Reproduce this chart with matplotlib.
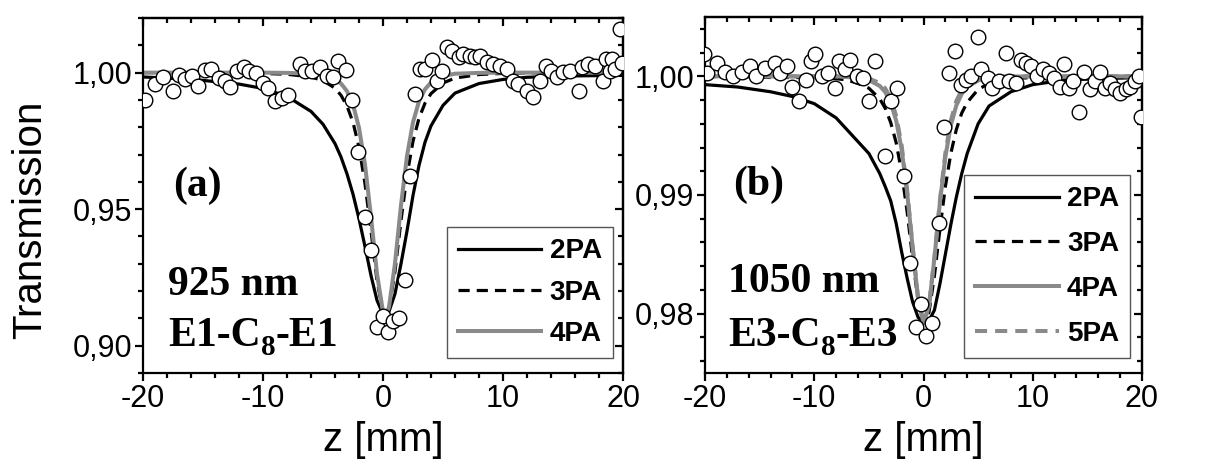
import matplotlib.pyplot as plt
from matplotlib.ticker import MultipleLocator, FuncFormatter

plt.rcParams['font.family'] = ['Liberation Sans', 'DejaVu Sans']
plt.rcParams['axes.unicode_minus'] = False

GRAY = '#8a8a8a'

# ---- panel (a): 925 nm, E1-C8-E1 ----
za_pts = [-19.83, -19.0, -18.3, -17.5, -16.97, -16.5, -15.9, -15.4, -14.8, -14.3,
          -13.7, -13.2, -12.75, -12.2, -11.6, -11.2, -10.6, -9.97, -9.55, -9.0,
          -8.44, -7.9, -6.9, -6.5, -5.94, -5.25, -4.7, -4.14, -3.72, -3.08,
          -2.6, -2.05, -1.5, -1.03, -0.53, -0.03, 0.44, 0.86, 1.36, 1.83,
          2.25, 2.67, 3.08, 3.5, 4.08, 4.5, 4.9, 5.33, 5.75, 6.3,
          6.7, 7.25, 7.67, 8.1, 8.64, 9.2, 9.75, 10.3, 10.86, 11.28,
          11.97, 12.5, 13.08, 13.6, 14.0, 14.5, 15.0, 15.6, 16.3, 16.6,
          17.1, 17.7, 18.3, 18.6, 18.9, 19.1, 19.3, 19.75, 19.9]
ta_pts = [0.990, 0.9958, 0.9985, 0.9932, 0.9993, 0.9977, 0.9989, 0.9952, 1.0010, 1.0013,
          0.9980, 0.9971, 0.9949, 1.0005, 1.0020, 1.0005, 0.9998, 0.9961, 0.9944, 0.9897,
          0.9906, 0.9919, 1.0032, 1.0007, 1.0007, 1.0020, 0.9989, 0.9983, 1.0042, 1.0010,
          0.9900, 0.9708, 0.9470, 0.9350, 0.9070, 0.9110, 0.9050, 0.9090, 0.9100, 0.9240,
          0.9623, 0.9922, 1.0013, 1.0013, 1.0046, 0.9971, 1.0007, 1.0093, 1.0080, 1.0056,
          1.0068, 1.0062, 1.0056, 1.0062, 1.0038, 1.0032, 1.0026, 1.0013, 0.9971, 0.9958,
          0.9934, 0.9910, 0.9971, 1.0026, 1.0007, 0.9983, 1.0001, 1.0007, 0.9934, 1.0020,
          1.0032, 1.0026, 0.9971, 1.0050, 1.0007, 1.0050, 1.0015, 1.0160, 1.0037]

za_fit = [-20, -16, -12, -10, -8, -6, -5, -4, -3.5, -3, -2.5, -2, -1.5, -1, -0.5, 0, 0.2,
          0.5, 1, 1.5, 2, 2.5, 3, 3.5, 4, 5, 6, 8, 10, 12, 16, 20]
ta_2pa = [0.9984, 0.9976, 0.9958, 0.9942, 0.9913, 0.9858, 0.9811, 0.9740, 0.9691, 0.9629,
          0.9555, 0.9465, 0.9363, 0.9257, 0.9166, 0.9115, 0.9110,
          0.9125, 0.9190, 0.9300, 0.9420, 0.9550, 0.9660, 0.9745, 0.9805, 0.9880, 0.9925,
          0.9960, 0.9975, 0.9983, 0.9988, 0.9990]
ta_3pa = [1.0, 1.0, 0.9999, 0.9997, 0.9994, 0.9984, 0.9971, 0.9943, 0.9917, 0.9878,
          0.9818, 0.9727, 0.9593, 0.9421, 0.9239, 0.9122, 0.9110,
          0.9136, 0.9273, 0.9458, 0.9624, 0.9749, 0.9833, 0.9888, 0.9923, 0.9962, 0.9980,
          0.9993, 0.9997, 0.9999, 1.0, 1.0]
ta_4pa = [1.0, 1.0, 1.0, 1.0, 0.9999, 0.9996, 0.9991, 0.9976, 0.9960, 0.9932,
          0.9883, 0.9798, 0.9663, 0.9472, 0.9263, 0.9124, 0.9110,
          0.9141, 0.9302, 0.9514, 0.9695, 0.9818, 0.9895, 0.9939, 0.9964, 0.9987, 0.9996,
          0.9999, 1.0, 1.0, 1.0, 1.0]

# ---- panel (b): 1050 nm, E3-C8-E3 ----
zb_pts = [-20.1, -19.8, -18.9, -18.2, -17.4, -16.6, -15.9, -15.3, -14.5, -13.6,
          -13.1, -12.5, -12.0, -11.4, -10.8, -10.3, -9.9, -9.33, -8.7, -8.1,
          -7.75, -7.15, -6.7, -6.1, -5.56, -5.0, -4.4, -3.5, -2.95, -2.4,
          -1.8, -1.2, -0.7, -0.27, 0.26, 0.8, 1.45, 1.9, 2.35, 2.9,
          3.4, 3.87, 4.33, 4.95, 5.25, 5.86, 6.3, 6.93, 7.54, 7.85,
          8.45, 8.9, 9.35, 9.8, 10.4, 10.9, 11.5, 11.9, 12.45, 12.9,
          13.3, 13.7, 14.2, 14.7, 15.25, 15.7, 16.2, 16.6, 17.1, 17.5,
          18.0, 18.5, 18.9, 19.4, 19.7, 19.95]
tb_pts = [1.0019, 1.0003, 1.0011, 1.0004, 1.0000, 1.0004, 1.0009, 1.0000, 1.0007, 1.0011,
          1.0003, 1.0009, 0.9991, 0.9979, 0.9997, 1.0013, 1.0019, 1.0000, 1.0003, 0.9990,
          1.0013, 1.0006, 1.0014, 1.0000, 0.9999, 0.9979, 1.0013, 0.9933, 0.9979, 0.9990,
          0.9916, 0.9843, 0.9789, 0.9808, 0.9781, 0.9792, 0.9876, 0.9957, 1.0003, 1.0021,
          0.9993, 0.9997, 1.0000, 1.0033, 1.0006, 0.9999, 0.9990, 0.9996, 1.0020, 0.9996,
          0.9994, 1.0014, 1.0011, 1.0009, 1.0000, 1.0006, 1.0003, 0.9999, 0.9991, 1.0010,
          0.9990, 0.9996, 0.9970, 1.0004, 0.9989, 0.9996, 1.0004, 0.9990, 0.9994, 0.9989,
          0.9986, 0.9989, 0.9991, 0.9996, 1.0000, 0.9966]

zb_fit = [-20, -17, -14, -12, -10, -8, -7, -6, -5, -4, -3.5, -3, -2.5, -2, -1.5, -1, -0.5,
          0, 0.5, 1, 1.5, 2, 2.5, 3, 3.5, 4, 5, 6, 8, 10, 13, 16, 20]
tb_2pa = [0.9993, 0.9991, 0.9987, 0.9983, 0.9977, 0.9965, 0.9955, 0.9945, 0.9935, 0.9918,
          0.9907, 0.9895, 0.9876, 0.9852, 0.9830, 0.9810, 0.9797,
          0.9792, 0.9794, 0.9803, 0.9825, 0.9850, 0.9875, 0.9898, 0.9918, 0.9935, 0.9960,
          0.9975, 0.9987, 0.9993, 0.9997, 0.9998, 0.9999]
tb_3pa = [1.0, 1.0, 0.9999, 0.9999, 0.9999, 0.9998, 0.9997, 0.9994, 0.9990, 0.9981,
          0.9973, 0.9961, 0.9944, 0.9919, 0.9886, 0.9847, 0.9811,
          0.9793, 0.9801, 0.9832, 0.9871, 0.9907, 0.9935, 0.9955, 0.9969, 0.9978, 0.9989,
          0.9994, 0.9998, 0.9999, 1.0, 1.0, 1.0]
tb_4pa = [1.0, 1.0, 1.0, 1.0, 1.0, 1.0, 0.99994, 0.99986, 0.99968, 0.99919,
          0.99867, 0.99777, 0.99627, 0.99384, 0.99022, 0.98563, 0.98130,
          0.97922, 0.98063, 0.98467, 0.98935, 0.99320, 0.99587, 0.99753, 0.99852, 0.99911,
          0.99965, 0.99986, 0.99998, 1.0, 1.0, 1.0, 1.0]
tb_5pa = [1.0, 1.0, 1.0, 1.0, 1.0, 1.0, 1.0, 0.99994, 0.99982, 0.99943,
          0.99898, 0.99814, 0.99666, 0.99416, 0.99041, 0.98570, 0.98130,
          0.97922, 0.98063, 0.98474, 0.98952, 0.99352, 0.99625, 0.99791, 0.99884, 0.99936,
          0.99980, 0.99994, 1.0, 1.0, 1.0, 1.0, 1.0]


def comma(v, pos):
    return ('%.2f' % v).replace('.', ',')


def style_axes(ax, ylim, ymajor, yminor):
    ax.set_xlim(-20, 20)
    ax.set_ylim(*ylim)
    ax.xaxis.set_major_locator(MultipleLocator(10))
    ax.xaxis.set_minor_locator(MultipleLocator(2))
    ax.yaxis.set_major_locator(MultipleLocator(ymajor))
    ax.yaxis.set_minor_locator(MultipleLocator(yminor))
    ax.yaxis.set_major_formatter(FuncFormatter(comma))
    for s in ax.spines.values():
        s.set_linewidth(1.6)
    ax.tick_params(which='both', direction='out', width=1.6, labelsize=22, pad=2)
    ax.tick_params(which='major', length=6)
    ax.tick_params(which='minor', length=3.5)
    # mirrored ticks on top/right pointing inward
    top = ax.secondary_xaxis('top')
    top.xaxis.set_major_locator(MultipleLocator(10))
    top.xaxis.set_minor_locator(MultipleLocator(2))
    right = ax.secondary_yaxis('right')
    right.yaxis.set_major_locator(MultipleLocator(ymajor))
    right.yaxis.set_minor_locator(MultipleLocator(yminor))
    for sec in (top, right):
        sec.tick_params(which='both', direction='in', width=1.6, labeltop=False,
                        labelright=False)
        sec.tick_params(which='major', length=6)
        sec.tick_params(which='minor', length=3.5)
        for s in sec.spines.values():
            s.set_linewidth(1.6)


def sample_label(ax, x, y, left, right):
    # "E1-C" + subscript "8" + "-E1"
    serif = dict(family='Liberation Serif', weight='bold')
    t1 = ax.text(x, y, left + '-C', transform=ax.transAxes, size=30, **serif)
    t2 = ax.annotate('8', xy=(1.0, -0.14), xycoords=t1, va='bottom', size=21, **serif)
    ax.annotate('-' + right, xy=(1.0, 0.0), xycoords=(t2, t1), va='bottom', size=30,
                **serif)


fig = plt.figure(figsize=(12.15, 4.68), dpi=100)
ax1 = fig.add_axes([143 / 1215, 95 / 468, 480 / 1215, 355 / 468])
ax2 = fig.add_axes([705 / 1215, 95 / 468, 437 / 1215, 356 / 468])

lw = 2.3
ax1.plot(za_fit, ta_2pa, color='black', lw=lw, label='2PA')
ax1.plot(za_fit, ta_3pa, color='black', lw=lw, ls=(0, (3.5, 2.2)), label='3PA')
ax1.plot(za_fit, ta_4pa, color=GRAY, lw=2.9, label='4PA')
ax1.plot(za_pts, ta_pts, 'o', ms=10.5, mfc='white', mec='black', mew=1.0, zorder=5)
style_axes(ax1, (0.89, 1.02), 0.05, 0.01)

ax2.plot(zb_fit, tb_2pa, color='black', lw=lw, label='2PA')
ax2.plot(zb_fit, tb_3pa, color='black', lw=lw, ls=(0, (3.5, 2.2)), label='3PA')
ax2.plot(zb_fit, tb_4pa, color=GRAY, lw=2.9, label='4PA')
ax2.plot(zb_fit, tb_5pa, color=GRAY, lw=2.9, ls=(0, (3.0, 2.0)), label='5PA')
ax2.plot(zb_pts, tb_pts, 'o', ms=10.5, mfc='white', mec='black', mew=1.0, zorder=5)
style_axes(ax2, (0.975, 1.005), 0.01, 0.002)

leg_kw = dict(loc='lower right', borderaxespad=0, fancybox=False, framealpha=1,
              edgecolor='#555555', handlelength=3.0, handletextpad=0.3,
              borderpad=0.4,
              prop={'family': 'Liberation Sans', 'weight': 'bold', 'size': 20})
l1 = ax1.legend(bbox_to_anchor=(0.979, 0.042), labelspacing=0.55, **leg_kw)
l2 = ax2.legend(bbox_to_anchor=(0.973, 0.042), labelspacing=0.68, **leg_kw)
for l in (l1, l2):
    l.get_frame().set_linewidth(1.0)

serif = dict(family='Liberation Serif', weight='bold', size=30)
ax1.text(0.062, 0.50, '(a)', transform=ax1.transAxes, **serif)
ax1.text(0.052, 0.22, '925 nm', transform=ax1.transAxes, **serif)
sample_label(ax1, 0.052, 0.075, 'E1', 'E1')
ax2.text(0.064, 0.50, '(b)', transform=ax2.transAxes, **serif)
ax2.text(0.053, 0.228, '1050 nm', transform=ax2.transAxes, **serif)
sample_label(ax2, 0.053, 0.075, 'E3', 'E3')

fig.text(30 / 1215, 1 - 220 / 468, 'Transmission', rotation=90, ha='center',
         va='center', fontsize=29)
fig.text(383 / 1215, 1 - 440 / 468, 'z [mm]', ha='center', va='center', fontsize=29)
fig.text(923 / 1215, 1 - 440 / 468, 'z [mm]', ha='center', va='center', fontsize=29)

fig.savefig('out.png', dpi=100)
